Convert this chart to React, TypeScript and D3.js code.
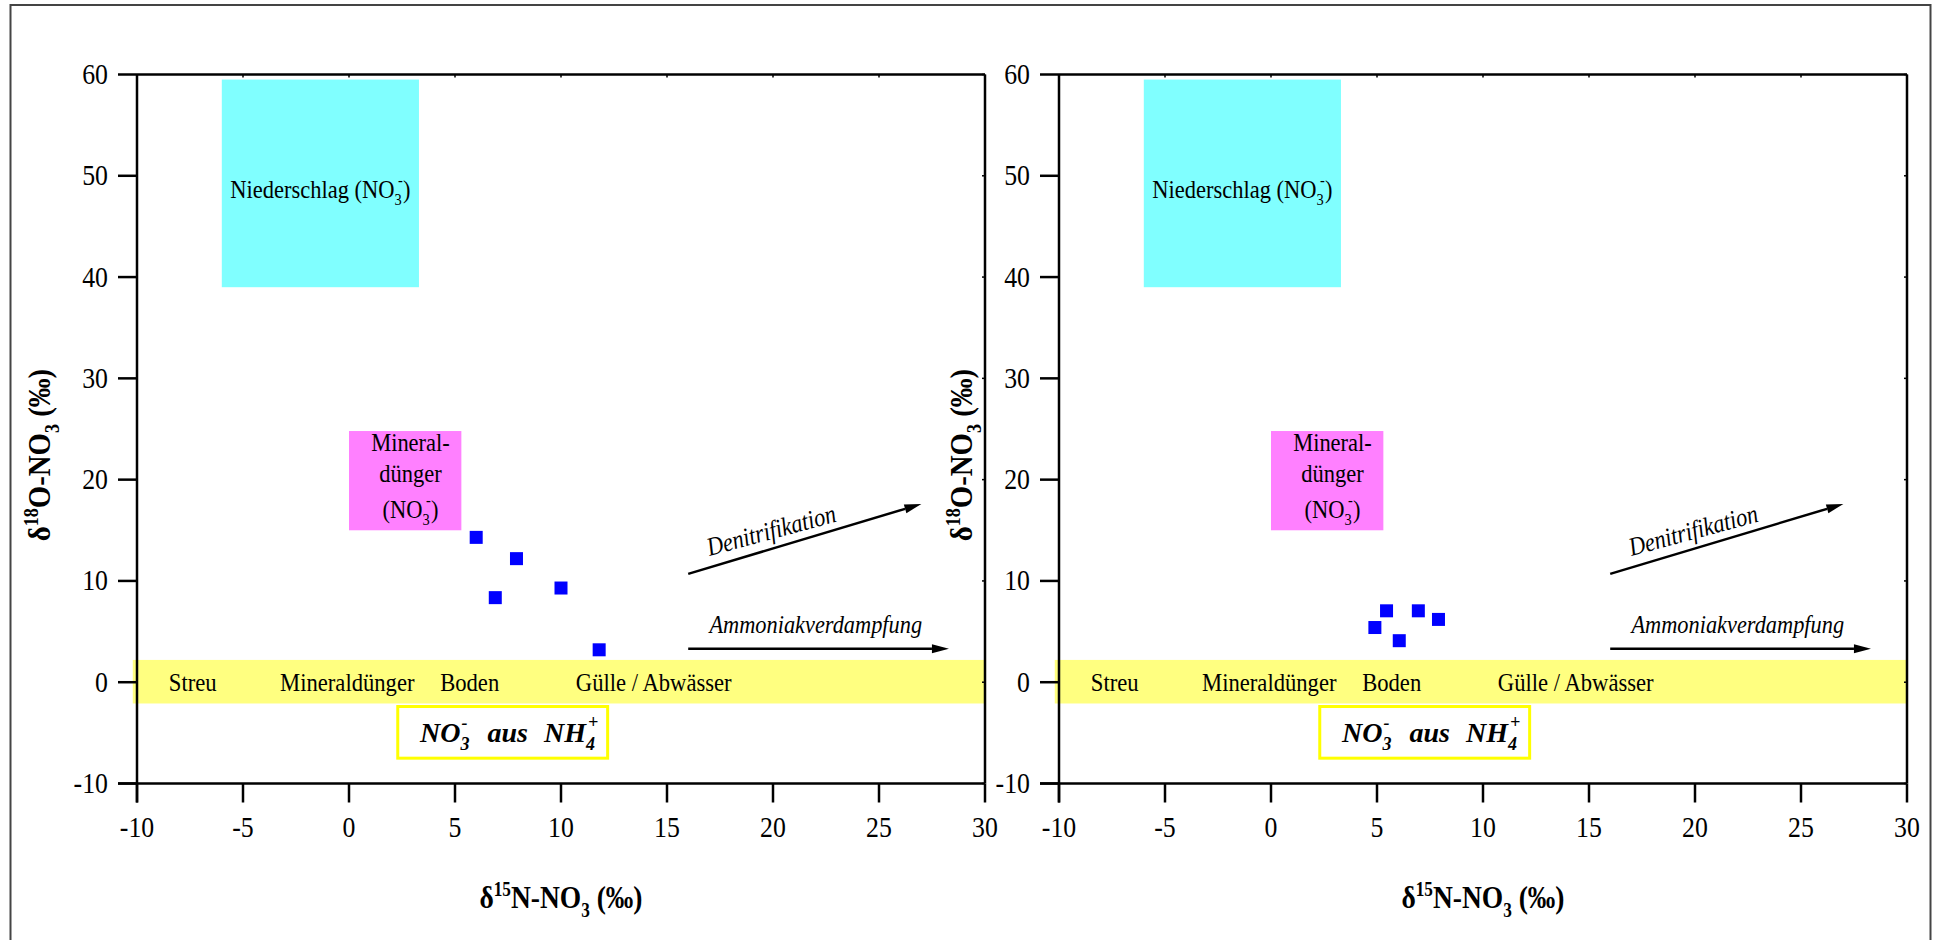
import * as d3 from "d3";

// axis ticks
const xTicks = [-10, -5, 0, 5, 10, 15, 20, 25, 30];
const yTicks = [-10, 0, 10, 20, 30, 40, 50, 60];

// measured samples, left and right panel (δ15N, δ18O in ‰)
const leftN15 = [6.0, 7.9, 6.9, 10.0, 11.8];
const leftO18 = [14.3, 12.2, 8.35, 9.3, 3.2];
const rightN15 = [4.9, 5.45, 6.05, 6.95, 7.9];
const rightO18 = [5.4, 7.05, 4.1, 7.05, 6.2];

// source fields: Niederschlag, Mineraldünger, NH4 band
const fieldX0 = [-6, 0, -10.2];
const fieldX1 = [3.3, 5.3, 30];
const fieldY0 = [39, 15, -2.1];
const fieldY1 = [59.5, 24.8, 2.2];
const fieldColors = ["#80ffff", "#ff80ff", "#ffff80"];

// labels inside the NH4 band
const bandLabels = ["Streu", "Mineraldünger", "Boden", "Gülle / Abwässer"];
const bandLabelX = [-8.5, -3.25, 4.3, 10.7];

// process arrows [x1, y1, x2, y2]
const denitArrow = [16, 10.7, 27, 17.6];
const ammonArrow = [16, 3.3, 28.3, 3.3];

const FONT = "'Liberation Serif', 'Times New Roman', serif";
const SQ = 0.86; // the original fonts are narrow

function Txt({ x, y, rotate = 0, sx = SQ, children, ...rest }: any) {
  return (
    <text
      transform={`translate(${x},${y}) rotate(${rotate}) scale(${sx},1)`}
      fontFamily={FONT}
      fill="#000"
      {...rest}
    >
      {children}
    </text>
  );
}

function Arrow({ x1, y1, x2, y2 }: any) {
  const a = Math.atan2(y2 - y1, x2 - x1);
  const len = 17;
  const hw = 4.5;
  const bx = x2 - len * Math.cos(a);
  const by = y2 - len * Math.sin(a);
  const px = -Math.sin(a) * hw;
  const py = Math.cos(a) * hw;
  return (
    <g>
      <line x1={x1} y1={y1} x2={bx} y2={by} stroke="#000" strokeWidth={2.5} />
      <polygon
        points={`${x2},${y2} ${bx + px},${by + py} ${bx - px},${by - py}`}
        fill="#000"
      />
    </g>
  );
}

function Panel({ left, n15, o18 }: any) {
  const x = d3.scaleLinear().domain([-10, 30]).range([left, left + 848]);
  const y = d3.scaleLinear().domain([-10, 60]).range([783.5, 74.5]);
  const [xMin, xMax] = x.range();
  const [yBot, yTop] = y.range();
  const tick = 19;

  const dA = denitArrow.map((v, i) => (i % 2 === 0 ? x(v) : y(v)));
  const aA = ammonArrow.map((v, i) => (i % 2 === 0 ? x(v) : y(v)));
  const denitAngle = (Math.atan2(dA[3] - dA[1], dA[2] - dA[0]) * 180) / Math.PI + 1.5;

  return (
    <g>
      {/* source fields */}
      {fieldX0.map((_, i) => (
        <rect
          key={i}
          x={x(fieldX0[i])}
          y={y(fieldY1[i])}
          width={x(fieldX1[i]) - x(fieldX0[i])}
          height={y(fieldY0[i]) - y(fieldY1[i])}
          fill={fieldColors[i]}
        />
      ))}

      {/* NO3- aus NH4+ box */}
      <rect
        x={x(2.3)}
        y={y(-2.4)}
        width={x(12.2) - x(2.3)}
        height={y(-7.5) - y(-2.4)}
        fill="none"
        stroke="#ffff00"
        strokeWidth={3}
      />
      <Txt x={x(3.35)} y={y(-5.9)} sx={1} fontSize={28} fontWeight="bold" fontStyle="italic">
        NO
        <tspan dy={8} fontSize={18}>3</tspan>
        <tspan dx={-8} dy={-21} fontSize={18}>-</tspan>
        <tspan dx={20} dy={13}>aus</tspan>
        <tspan dx={16}>NH</tspan>
        <tspan dy={8} fontSize={18}>4</tspan>
        <tspan dx={-7} dy={-22} fontSize={18}>+</tspan>
      </Txt>

      {/* field labels */}
      <Txt x={x((fieldX0[0] + fieldX1[0]) / 2)} y={y(47.8)} fontSize={25} sx={0.9} textAnchor="middle">
        Niederschlag (NO
        <tspan dy={7} fontSize={16}>3</tspan>
        <tspan dx={-4} dy={-19} fontSize={16}>-</tspan>
        <tspan dy={12}>)</tspan>
      </Txt>
      <Txt x={x(2.9)} y={y(22.86)} fontSize={25} sx={0.9} textAnchor="middle">Mineral-</Txt>
      <Txt x={x(2.9)} y={y(19.8)} fontSize={25} sx={0.9} textAnchor="middle">dünger</Txt>
      <Txt x={x(2.9)} y={y(16.2)} fontSize={25} sx={0.9} textAnchor="middle">
        (NO
        <tspan dy={7} fontSize={16}>3</tspan>
        <tspan dx={-4} dy={-19} fontSize={16}>-</tspan>
        <tspan dy={12}>)</tspan>
      </Txt>
      {bandLabels.map((s, i) => (
        <Txt key={s} x={x(bandLabelX[i])} y={y(-0.9)} fontSize={26} sx={0.87}>
          {s}
        </Txt>
      ))}

      {/* process arrows */}
      <Arrow x1={dA[0]} y1={dA[1]} x2={dA[2]} y2={dA[3]} />
      <Arrow x1={aA[0]} y1={aA[1]} x2={aA[2]} y2={aA[3]} />
      <Txt x={x(17.0)} y={y(12.45)} rotate={denitAngle} fontSize={26} fontStyle="italic">
        Denitrifikation
      </Txt>
      <Txt x={x(17.0)} y={y(4.84)} fontSize={26} fontStyle="italic">
        Ammoniakverdampfung
      </Txt>

      {/* samples */}
      {n15.map((v: number, i: number) => (
        <rect key={i} x={x(v) - 6.5} y={y(o18[i]) - 6.5} width={13} height={13} fill="#0000ff" />
      ))}

      {/* frame and axes */}
      <line x1={xMin} y1={yTop} x2={xMax} y2={yTop} stroke="#000" strokeWidth={2.5} />
      <line x1={xMax} y1={yTop} x2={xMax} y2={yBot} stroke="#000" strokeWidth={2.5} />
      <line x1={xMin - tick} y1={yBot} x2={xMax} y2={yBot} stroke="#000" strokeWidth={2.5} />
      <line x1={xMin} y1={yTop} x2={xMin} y2={yBot + tick} stroke="#000" strokeWidth={2.5} />

      {xTicks.map((t) => (
        <g key={t}>
          <line x1={x(t)} y1={yBot} x2={x(t)} y2={yBot + tick} stroke="#000" strokeWidth={2.5} />
          <line x1={x(t)} y1={yTop} x2={x(t)} y2={yTop + 3} stroke="#000" strokeWidth={1.5} />
          <Txt x={x(t)} y={837} fontSize={30} textAnchor="middle">
            {t}
          </Txt>
        </g>
      ))}
      {yTicks.map((t) => (
        <g key={t}>
          <line x1={xMin - tick} y1={y(t)} x2={xMin} y2={y(t)} stroke="#000" strokeWidth={2.5} />
          <line x1={xMax - 3} y1={y(t)} x2={xMax} y2={y(t)} stroke="#000" strokeWidth={1.5} />
          <Txt x={xMin - 29} y={y(t) + 9.5} fontSize={30} textAnchor="end">
            {t}
          </Txt>
        </g>
      ))}

      {/* axis titles */}
      <Txt x={(xMin + xMax) / 2} y={908} fontSize={32} fontWeight="bold" sx={0.86} textAnchor="middle">
        δ
        <tspan dy={-12} fontSize={20}>15</tspan>
        <tspan dy={12}>N-NO</tspan>
        <tspan dy={9} fontSize={20}>3</tspan>
        <tspan dy={-9}> (‰)</tspan>
      </Txt>
      <Txt x={xMin - 87} y={455} rotate={-90} fontSize={32} fontWeight="bold" sx={0.9} textAnchor="middle">
        δ
        <tspan dy={-12} fontSize={20}>18</tspan>
        <tspan dy={12}>O-NO</tspan>
        <tspan dy={9} fontSize={20}>3</tspan>
        <tspan dy={-9}> (‰)</tspan>
      </Txt>
    </g>
  );
}

export default function App() {
  return (
    <svg
      width={1934}
      height={940}
      style={{ position: "absolute", left: 0, top: 0, background: "#fff" }}
    >
      <rect x={0} y={0} width={1934} height={940} fill="#fff" />
      <rect x={10.5} y={5} width={1920} height={960} fill="none" stroke="#444" strokeWidth={2} />
      <Panel left={137} n15={leftN15} o18={leftO18} />
      <Panel left={1059} n15={rightN15} o18={rightO18} />
    </svg>
  );
}
